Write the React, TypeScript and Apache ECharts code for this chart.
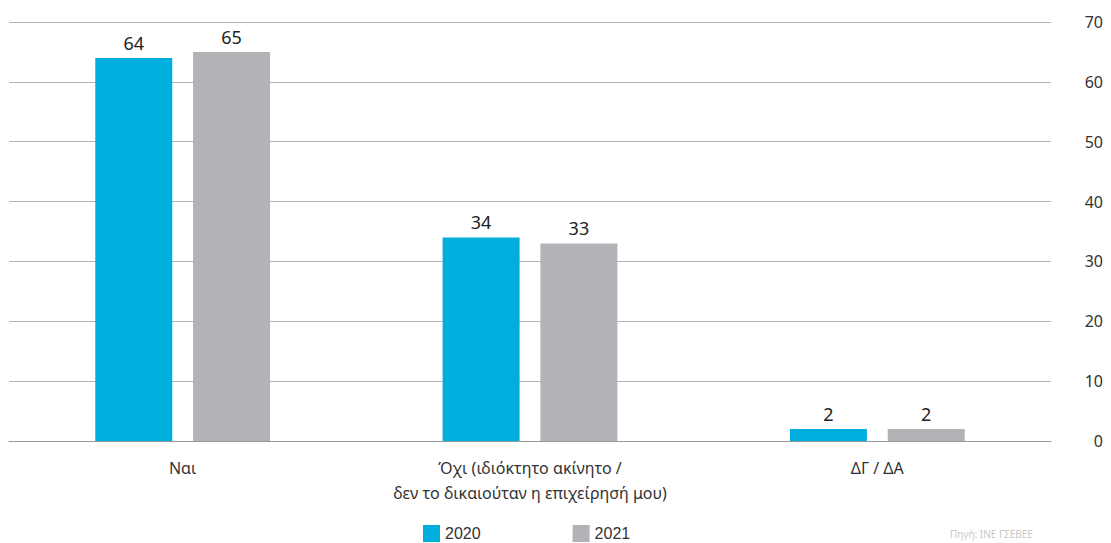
import React, { useEffect, useRef } from "react";
import * as echarts from "echarts";

const categories = [
  "Ναι",
  "Όχι (ιδιόκτητο ακίνητο /\nδεν το δικαιούταν η επιχείρησή μου)",
  "ΔΓ / ΔΑ",
];
const values2020 = [64, 34, 2];
const values2021 = [65, 33, 2];
const seriesNames = ["2020", "2021"];
const sourceNote = "Πηγή: ΙΝΕ ΓΣΕΒΕΕ";

export default function App() {
  const ref = useRef<HTMLDivElement>(null);
  useEffect(() => {
    if (!ref.current) return;
    const chart = echarts.init(ref.current, null, { renderer: "svg" });
    const labelStyle = {
      show: true,
      position: "top",
      distance: 6,
      fontSize: 18,
      color: "#222",
      fontFamily: "Noto Sans",
    };
    chart.setOption({
      animation: false,
      backgroundColor: "#fff",
      grid: { left: 9, right: 60, top: 22, bottom: 102, containLabel: false },
      legend: {
        left: 418,
        top: 520,
        itemWidth: 17,
        itemHeight: 17,
        itemGap: 92,
        icon: "rect",
        textStyle: { fontSize: 16, color: "#333", fontFamily: "Liberation Sans" },
        data: seriesNames,
      },
      xAxis: {
        type: "category",
        data: categories,
        axisLine: { show: true, lineStyle: { color: "#9a9a9a", width: 1 } },
        axisTick: { show: false },
        axisLabel: {
          interval: 0,
          fontSize: 16,
          color: "#333",
          lineHeight: 25,
          margin: 14,
          fontFamily: "Noto Sans",
        },
      },
      yAxis: {
        type: "value",
        position: "right",
        min: 0,
        max: 70,
        interval: 10,
        axisLine: { show: false },
        axisTick: { show: false },
        splitLine: { lineStyle: { color: "#b4b4b4", width: 1 } },
        axisLabel: {
          fontSize: 16,
          color: "#333",
          align: "right",
          margin: 52,
          fontFamily: "Noto Sans",
        },
      },
      series: [
        {
          name: seriesNames[0],
          type: "bar",
          data: values2020,
          barWidth: 77,
          barGap: "27%",
          itemStyle: { color: "#00AEDD" },
          label: labelStyle,
        },
        {
          name: seriesNames[1],
          type: "bar",
          data: values2021,
          barWidth: 77,
          itemStyle: { color: "#B1B3B6" },
          label: labelStyle,
        },
      ],
      graphic: [
        {
          type: "text",
          left: 950,
          top: 529,
          style: { text: sourceNote, fontSize: 10, fill: "#c8c8c8", fontFamily: "Noto Sans" },
        },
      ],
    });
    return () => chart.dispose();
  }, []);
  return (
    <div
      ref={ref}
      style={{ position: "fixed", left: 0, top: 0, width: 1111, height: 543 }}
    />
  );
}
